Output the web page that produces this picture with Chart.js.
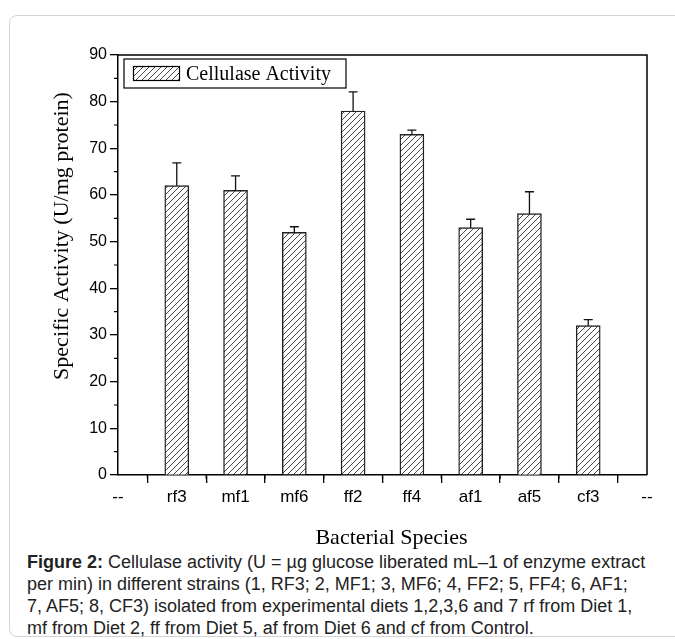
<!DOCTYPE html>
<html>
<head>
<meta charset="utf-8">
<script src="https://cdn.jsdelivr.net/npm/chart.js@4"></script>
<style>
  html, body { margin: 0; padding: 0; background: #fff; }
  body { width: 675px; height: 639px; position: relative; overflow: hidden; }
  .card { position: absolute; left: 9px; top: 15px; width: 700px; height: 622px;
    border: 1px solid #d4d4d4; border-radius: 8px; box-sizing: border-box; }
  #wrap { position: absolute; left: 0; top: 0; width: 675px; height: 550px; }
  .caption { position: absolute; left: 27px; top: 551px; width: 648px;
    font: 18px "Liberation Sans", Arial, sans-serif; line-height: 22px; color: #222; white-space: nowrap; }
</style>
</head>
<body>
<div class="card"></div>
<div id="wrap"><canvas id="myChart" width="675" height="550"></canvas></div>
<div class="caption">
  <b>Figure 2:</b> Cellulase activity (U = µg glucose liberated mL–1 of enzyme extract<br>
  per min) in different strains (1, RF3; 2, MF1; 3, MF6; 4, FF2; 5, FF4; 6, AF1;<br>
  7, AF5; 8, CF3) isolated from experimental diets 1,2,3,6 and 7 rf from Diet 1,<br>
  mf from Diet 2, ff from Diet 5, af from Diet 6 and cf from Control.
</div>
<script>
const categories = ["--", "rf3", "mf1", "mf6", "ff2", "ff4", "af1", "af5", "cf3", "--"];
const activity = [null, 62, 61, 52, 78, 73, 53, 56, 32, null];
const errors = [null, 4.9, 3.1, 1.2, 4.1, 0.9, 1.8, 4.7, 1.3, null];
const yTicks = [0, 10, 20, 30, 40, 50, 60, 70, 80, 90];

const seriesLabel = "Cellulase Activity";
const xTitle = "Bacterial Species";
const yTitle = "Specific Activity (U/mg protein)";

const serif = '"Liberation Serif", "Times New Roman", serif';
const sans = '"Liberation Sans", Arial, sans-serif';

// diagonal hatch, like the "/" fill in the original
const makeHatch = () => {
  const size = 6;
  const c = document.createElement("canvas");
  c.width = size; c.height = size;
  const g = c.getContext("2d");
  g.fillStyle = "#fff";
  g.fillRect(0, 0, size, size);
  g.strokeStyle = "#333";
  g.lineWidth = 0.9;
  g.beginPath();
  g.moveTo(-1, size + 1); g.lineTo(size + 1, -1);
  g.moveTo(-1, 1); g.lineTo(1, -1);
  g.moveTo(size - 1, size + 1); g.lineTo(size + 1, size - 1);
  g.stroke();
  return g.createPattern(c, "repeat");
};
const hatch = makeHatch();

const extras = {
  id: "extras",
  afterDatasetsDraw(chart) {
    const { ctx, scales: { y } } = chart;
    const meta = chart.getDatasetMeta(0);
    ctx.save();
    ctx.strokeStyle = "#111";
    ctx.lineWidth = 1.3;
    meta.data.forEach((bar, i) => {
      if (activity[i] == null || !errors[i]) return;
      const top = y.getPixelForValue(activity[i] + errors[i]);
      ctx.beginPath();
      ctx.moveTo(bar.x, bar.y);
      ctx.lineTo(bar.x, top);
      ctx.moveTo(bar.x - 4.5, top);
      ctx.lineTo(bar.x + 4.5, top);
      ctx.stroke();
    });
    ctx.restore();
  },
  afterDraw(chart) {
    const { ctx, chartArea: a, scales: { x, y } } = chart;
    ctx.save();
    ctx.strokeStyle = "#000";
    ctx.lineWidth = 1.5;
    // frame (top and right)
    ctx.beginPath();
    ctx.moveTo(a.left, a.top); ctx.lineTo(a.right, a.top); ctx.lineTo(a.right, a.bottom);
    ctx.stroke();
    // minor ticks
    ctx.lineWidth = 1.2;
    ctx.beginPath();
    for (let i = 0; i < categories.length - 1; i++) {
      const px = (x.getPixelForValue(i) + x.getPixelForValue(i + 1)) / 2;
      ctx.moveTo(px, a.bottom); ctx.lineTo(px, a.bottom + 4);
    }
    for (let i = 0; i < yTicks.length - 1; i++) {
      const py = y.getPixelForValue(yTicks[i] + 5);
      ctx.moveTo(a.left, py); ctx.lineTo(a.left - 4, py);
    }
    ctx.stroke();

    // legend box
    const lx = a.left + 6, ly = a.top + 4, lw = 222, lh = 29;
    ctx.lineWidth = 1.2;
    ctx.fillStyle = "#fff";
    ctx.fillRect(lx, ly, lw, lh);
    ctx.strokeRect(lx, ly, lw, lh);
    ctx.fillStyle = hatch;
    ctx.fillRect(lx + 9.5, ly + 7.5, 46, 14);
    ctx.strokeRect(lx + 9.5, ly + 7.5, 46, 14);
    ctx.fillStyle = "#000";
    ctx.font = "20px " + serif;
    ctx.textBaseline = "middle";
    ctx.textAlign = "left";
    ctx.fillText(seriesLabel, lx + 62, ly + lh / 2 + 1);

    // axis titles
    ctx.font = "22px " + serif;
    ctx.textAlign = "center";
    ctx.fillText(xTitle, (a.left + a.right) / 2 + 9, 538);
    ctx.translate(62, 236);
    ctx.rotate(-Math.PI / 2);
    ctx.fillText(yTitle, 0, 0);
    ctx.restore();
  }
};

new Chart(document.getElementById("myChart"), {
  type: "bar",
  data: {
    labels: categories,
    datasets: [{
      label: seriesLabel,
      data: activity,
      backgroundColor: hatch,
      borderColor: "#222",
      borderWidth: 1.4,
      barThickness: 24,
    }]
  },
  options: {
    responsive: false,
    animation: false,
    layout: { padding: { top: 55, right: 28, left: 0, bottom: 0 } },
    plugins: { legend: { display: false }, tooltip: { enabled: false } },
    scales: {
      x: {
        offset: false,
        grid: { display: true, drawOnChartArea: false, drawTicks: true, tickLength: 8, color: "#000", lineWidth: 1.3 },
        border: { display: true, color: "#000", width: 1.5 },
        ticks: { color: "#000", font: { family: sans, size: 17 }, padding: 4, maxRotation: 0, autoSkip: false },
        afterFit: s => { s.height = 550 - 475; },
      },
      y: {
        min: 0, max: 90,
        afterBuildTicks: s => { s.ticks = yTicks.map(v => ({ value: v })); },
        grid: { display: true, drawOnChartArea: false, drawTicks: true, tickLength: 8, color: "#000", lineWidth: 1.3 },
        border: { display: true, color: "#000", width: 1.5 },
        ticks: { color: "#000", font: { family: sans, size: 16 }, padding: 3 },
        afterFit: s => { s.width = 118; },
      }
    }
  },
  plugins: [extras]
});
</script>
</body>
</html>
